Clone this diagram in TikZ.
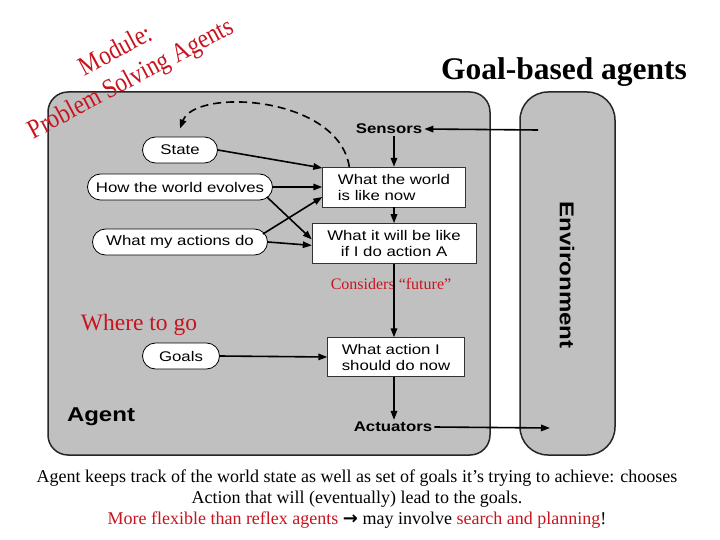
\documentclass[tikz,border=0pt]{standalone}
\usepackage{fontspec}
\setmainfont{Liberation Serif}
\newfontfamily\diagfont[FakeStretch=1.2]{Liberation Sans}
\newfontfamily\tallserif[FakeStretch=0.86]{Liberation Serif}
\newfontfamily\symbolfont{DejaVu Sans}
\usetikzlibrary{arrows.meta, positioning}
\definecolor{agentgray}{RGB}{192,192,192}
\definecolor{notered}{RGB}{200,20,30}

\begin{document}
\begin{tikzpicture}[
    x=1pt, y=-1pt,
    oval/.style={rectangle, rounded corners=13pt, draw, thick, fill=white, minimum height=26pt, inner sep=0pt, font=\diagfont\fontsize{14}{16}\selectfont},
    box/.style={rectangle, draw=black!80, fill=white, minimum height=40pt, inner sep=0pt, font=\diagfont\fontsize{14}{16}\selectfont},
    port/.style={inner sep=2pt, font=\diagfont\bfseries\fontsize{14}{16}\selectfont},
    panel/.style={draw=black!85, line width=1.5pt, fill=agentgray},
    arrow/.style={-{Triangle[length=9pt,width=6.5pt]}, line width=1.6pt},
    dasharrow/.style={arrow, dash pattern=on 8pt off 5pt},
    note/.style={text=notered, inner sep=0pt},
]

\fill[white] (0,0) rectangle (720,540);
\useasboundingbox (0,0) rectangle (720,540);

% agent and environment panels
\draw[panel, rounded corners=20pt] (48,92) rectangle (490,455);
\draw[panel, rounded corners=28pt] (520,92) rectangle (615,455);
\node[rotate=-90, font=\diagfont\bfseries\fontsize{20}{22}\selectfont] (env) at (567,275) {Environment};
\node[font=\diagfont\bfseries\fontsize{20}{22}\selectfont] (agent) at (101,417) {Agent};

\node[port] (sensors) at (389,129) {Sensors};
\node[port] (actuators) at (393,427) {Actuators};
\coordinate (envin) at (538,130);
\coordinate (envout) at (550,428);

\node[oval, minimum width=75pt] (state) at (180,150) {State};
\node[oval, minimum width=185pt] (evolves) at (180,187) {How the world evolves};
\node[oval, minimum width=175pt] (actions) at (180,242) {What my actions do};
\node[oval, minimum width=77pt] (goals) at (181,356) {Goals};

\node[box, minimum width=143pt, align=left] (wnow) at (394,187) {What the world\\is like now};
\node[box, minimum width=164pt, align=center, below=16pt of wnow] (future) {What it will be like\\if I do action A};
\node[box, minimum width=137pt, align=left, minimum height=39pt] (action) at (396,357) {What action I\\should do now};

\node[note, font=\fontsize{16}{18}\selectfont] (considers) at (391,284) {Considers “future”};
\node[note, font=\fontsize{23.5}{26}\selectfont] (where) at (139,325) {Where to go};

\draw[arrow] (envin) -- (sensors.east);
\draw[arrow] (wnow.north |- sensors.south) -- (wnow.north);
\draw[arrow] (wnow.south) -- (future.north);
\draw[arrow] (future.south) -- (action.north -| future.south);
\draw[arrow] (action.south -| future.south) -- (actuators.north -| future.south);
\draw[arrow] (actuators.east) -- (envout);

\draw[arrow] (state.east) -- ([yshift=19pt]wnow.west);
\draw[arrow] (evolves.east) -- (wnow.west);
\draw[arrow] ([xshift=-6pt,yshift=-10pt]evolves.east) -- ([yshift=4pt]future.west);
\draw[arrow] ([xshift=-5pt,yshift=8pt]actions.east) -- ([yshift=-10pt]wnow.west);
\draw[arrow] (actions.east) -- ([yshift=-2pt]future.west);
\draw[arrow] (goals.east) -- (action.west);
\draw[dasharrow] ([xshift=27pt]wnow.north west) .. controls (338,95) and (195,88) .. ([yshift=8pt]state.north);

% titles and remarks
\node[font=\bfseries\fontsize{31.5}{33}\selectfont] (title) at (564,72) {Goal-based agents};
\node[note, rotate=28, align=center, font=\tallserif\fontsize{27}{32}\selectfont] (module) at (124,66) {Module:\\Problem Solving Agents};
\node[align=center, inner sep=0pt, font=\fontsize{18}{21}\selectfont] (caption) at (357,499)
    {Agent keeps track of the world state as well as set of goals it’s trying to achieve: chooses\\
     Action that will (eventually) lead to the goals.\\
     \textcolor{notered}{More flexible than reflex agents} {\symbolfont\bfseries →} may involve \textcolor{notered}{search and planning}!};

\end{tikzpicture}
\end{document}
